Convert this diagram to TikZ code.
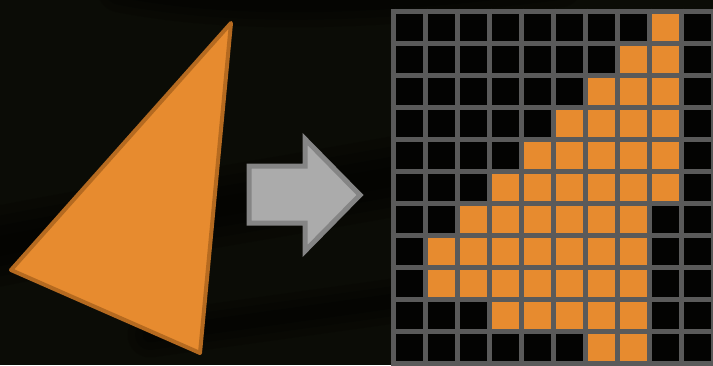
\documentclass[tikz,border=0pt]{standalone}
\definecolor{bg}{HTML}{0B0C06}
\definecolor{org}{HTML}{E78B2F}
\definecolor{orgdark}{HTML}{B56A20}
\definecolor{gridc}{HTML}{5A5A5A}
\definecolor{arrfill}{HTML}{ABABAB}
\definecolor{arredge}{HTML}{858585}
\definecolor{cellbg}{HTML}{030302}
\begin{document}
\begin{tikzpicture}[x=1pt,y=-1pt,
  swoosh/.style={black,opacity=0.18,line cap=round},
  cell/.style={fill=org},
  gridline/.style={draw=gridc,line width=5.3pt},
  tri/.style={fill=org,draw=orgdark,line width=4pt,line join=round},
  bigarrow/.style={fill=arrfill,draw=arredge,line width=5pt,line join=miter}]
\useasboundingbox (0,0) rectangle (713,365);
\clip (0,0) rectangle (713,365);
\fill[bg] (0,0) rectangle (713,365);
% faint background swooshes (layered for soft edges)
\foreach \w in {20,40,60,80}
  \draw[swoosh,line width=\w pt] (-20,250) .. controls (150,215) and (350,190) .. (740,110);
\foreach \w in {15,30,45}
  \draw[swoosh,line width=\w pt] (120,-10) .. controls (250,15) and (400,5) .. (560,-15);
\foreach \w in {15,30,45}
  \draw[swoosh,line width=\w pt] (150,335) .. controls (400,300) and (550,280) .. (740,250);
% black grid area
\fill[cellbg] (390.7,8.7) rectangle (713,365);
% triangle
\path[tri] (231,23) -- (11,270) -- (200,353) -- cycle;
% arrow
\path[bigarrow] (249,166) -- (305,166) -- (305,139) -- (360,195) -- (305,251) -- (305,223) -- (249,223) -- cycle;
% rasterised cells
\foreach \r/\a/\b in {0/8/8,1/7/8,2/6/8,3/5/8,4/4/8,5/3/8,6/2/7,7/1/7,8/1/7,9/3/7,10/6/7}
  \foreach \c in {\a,...,\b}
    \path[cell] (393.3+32*\c,11.3+32*\r) rectangle ++(32,32);
% grid lines
\foreach \k in {0,...,10}
  \path[gridline] (393.3+32*\k,8.7) -- (393.3+32*\k,370);
\foreach \k in {0,...,11}
  \path[gridline] (390.7,11.3+32*\k) -- (720,11.3+32*\k);
\end{tikzpicture}
\end{document}
